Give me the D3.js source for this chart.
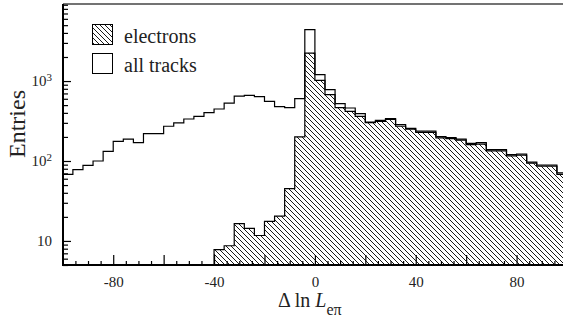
<!DOCTYPE html>
<html>
<head>
<meta charset="utf-8">
<script src="https://cdn.jsdelivr.net/npm/d3@7"></script>
<style>
  body { margin: 0; background: #fff; }
  svg { display: block; }
  svg text { font-family: 'Liberation Serif', serif; }
</style>
</head>
<body>
<div id="chart"></div>
<script>
// histogram bins (left edge of each 4-unit bin)
const binLefts = [-100, -96, -92, -88, -84, -80, -76, -72, -68, -64,
  -60, -56, -52, -48, -44, -40, -36, -32, -28, -24,
  -20, -16, -12, -8, -4, 0, 4, 8, 12, 16,
  20, 24, 28, 32, 36, 40, 44, 48, 52, 56,
  60, 64, 68, 72, 76, 80, 84, 88, 92, 96];
const binWidth = 4;

// all tracks
const allTracks = [68, 78, 88, 100, 132, 176, 188, 170, 220, 220,
  272, 299, 335, 362, 402, 447, 531, 649, 662, 638,
  557, 479, 465, 603, 4390, 1202, 780, 522, 460, 391,
  307, 323, 339, 285, 256, 236, 236, 202, 196, 188,
  166, 170, 139, 139, 120, 122, 97, 89, 89, 71];

// electrons (0 = empty bin)
const electrons = [0, 0, 0, 0, 0, 0, 0, 0, 0, 0,
  0, 0, 0, 0, 0, 7.8, 8.7, 16.5, 14.4, 11.7,
  17.6, 20.4, 45, 200, 2240, 1020, 676, 465, 417, 362,
  302, 313, 332, 272, 250, 228, 228, 195, 190, 182,
  160, 163, 134, 134, 116, 118, 94, 86, 86, 68];

const xLabelTicks = [-80, -40, 0, 40, 80];
const xMajorTicks = [-100, -80, -60, -40, -20, 0, 20, 40, 60, 80, 100];
const xMinorTicks = [-95, -90, -85, -75, -70, -65, -55, -50, -45, -35, -30, -25,
  -15, -10, -5, 5, 10, 15, 25, 30, 35, 45, 50, 55, 65, 70, 75, 85, 90, 95];
const yMajorTicks = [10, 100, 1000];
const yMinorTicks = [5, 6, 7, 8, 9, 20, 30, 40, 50, 60, 70, 80, 90,
  200, 300, 400, 500, 600, 700, 800, 900,
  2000, 3000, 4000, 5000, 6000, 7000, 8000, 9000];
const yTickLabels = [{ base: '10', exp: '' }, { base: '10', exp: '2' }, { base: '10', exp: '3' }];

const serif = 'Liberation Serif, serif';
const width = 563;
const height = 323;
const plot = { left: 63, top: 4, bottom: 265 };

const svg = d3.select('#chart')
  .append('svg')
  .attr('width', width)
  .attr('height', height)
  .attr('font-family', serif);

const x = d3.scaleLinear()
  .domain([-100, 100])
  .range([62.8, 567]);

const y = d3.scaleLog()
  .domain([5, 9200])
  .range([plot.bottom, plot.top]);

// hatch pattern
svg.append('defs')
  .append('pattern')
  .attr('id', 'hatch')
  .attr('patternUnits', 'userSpaceOnUse')
  .attr('width', 5)
  .attr('height', 5)
  .append('path')
  .attr('d', 'M-1,-1 L6,6 M-1,4 L1,6 M4,-1 L6,1')
  .attr('stroke', '#000')
  .attr('stroke-width', 0.9);

svg.append('clipPath').attr('id', 'plotclip')
  .append('rect')
  .attr('x', plot.left)
  .attr('y', plot.top)
  .attr('width', width - plot.left)
  .attr('height', plot.bottom - plot.top);

// step points incl. closing right edge
function steps(values) {
  const pts = binLefts.map((b, i) => ({ x: b, v: values[i] }));
  pts.push({ x: binLefts[binLefts.length - 1] + binWidth, v: values[values.length - 1] });
  return pts;
}

const g = svg.append('g').attr('clip-path', 'url(#plotclip)');

const elecPts = steps(electrons).filter(d => d.v > 0);
const area = d3.area()
  .x(d => x(d.x))
  .y0(plot.bottom)
  .y1(d => y(d.v))
  .curve(d3.curveStepAfter);

g.append('path')
  .datum(elecPts)
  .attr('d', area)
  .attr('fill', 'url(#hatch)')
  .attr('stroke', '#000')
  .attr('stroke-width', 1.2);

const line = d3.line()
  .x(d => x(d.x))
  .y(d => y(d.v))
  .curve(d3.curveStepAfter);

g.append('path')
  .datum(steps(allTracks))
  .attr('d', line)
  .attr('fill', 'none')
  .attr('stroke', '#000')
  .attr('stroke-width', 1.2);

// top frame
svg.append('line')
  .attr('x1', plot.left).attr('x2', width)
  .attr('y1', plot.top).attr('y2', plot.top)
  .attr('stroke', '#444')
  .attr('stroke-width', 1.5);

// x axis
const xAxisG = svg.append('g').attr('transform', `translate(0,${plot.bottom})`);
xAxisG.append('g')
  .call(d3.axisBottom(x).tickValues(xMinorTicks).tickSize(-4).tickFormat(''))
  .call(a => a.select('.domain').remove());
xAxisG.append('g')
  .call(d3.axisBottom(x).tickValues(xMajorTicks).tickSize(-10).tickPadding(11)
    .tickFormat(d => xLabelTicks.includes(d) ? d : ''))
  .attr('font-family', serif)
  .attr('font-size', 15)
  .call(a => a.select('.domain').remove())
  .selectAll('text')
  .attr('fill', '#222');
xAxisG.selectAll('.tick line').attr('stroke', '#000').attr('stroke-width', 1.2);
xAxisG.append('line')
  .attr('x1', plot.left).attr('x2', width)
  .attr('stroke', '#000').attr('stroke-width', 2);

// y axis
const yAxisG = svg.append('g').attr('transform', `translate(${plot.left},0)`);
yAxisG.append('g')
  .call(d3.axisLeft(y).tickValues(yMinorTicks).tickSize(-5).tickFormat(''))
  .call(a => a.select('.domain').remove());
const yMajor = yAxisG.append('g')
  .call(d3.axisLeft(y).tickValues(yMajorTicks).tickSize(-8).tickPadding(11).tickFormat(''))
  .attr('font-family', serif)
  .attr('font-size', 15)
  .call(a => a.select('.domain').remove());
yAxisG.selectAll('.tick line').attr('stroke', '#000').attr('stroke-width', 1.2);
yMajor.selectAll('.tick text').each(function (d, i) {
  const t = d3.select(this).attr('fill', '#222');
  t.append('tspan').text(yTickLabels[i].base);
  if (yTickLabels[i].exp) {
    t.append('tspan')
      .attr('dy', '-0.45em')
      .attr('font-size', 11)
      .text(yTickLabels[i].exp);
  }
});
yAxisG.append('line')
  .attr('y1', plot.top).attr('y2', plot.bottom + 1)
  .attr('stroke', '#000').attr('stroke-width', 2);

// axis labels
svg.append('text')
  .attr('transform', 'translate(25,124) rotate(-90)')
  .attr('text-anchor', 'middle')
  .attr('font-size', 24)
  .attr('fill', '#222')
  .text('Entries');

const xl = svg.append('text')
  .attr('x', 278)
  .attr('y', 307)
  .attr('font-size', 20)
  .attr('fill', '#222');
xl.append('tspan').text('Δ ln ');
xl.append('tspan').attr('font-style', 'italic').text('L');
xl.append('tspan').attr('dy', 8).attr('font-size', 16).text('eπ');

// legend
const legendItems = [
  { label: 'electrons', fill: 'url(#hatch)', y: 24 },
  { label: 'all tracks', fill: '#fff', y: 53 }
];
const legend = svg.append('g').attr('class', 'legend');
legend.selectAll('rect')
  .data(legendItems)
  .enter()
  .append('rect')
  .attr('x', 92.5)
  .attr('y', d => d.y + 0.5)
  .attr('width', 20)
  .attr('height', 20)
  .attr('fill', d => d.fill)
  .attr('stroke', '#000')
  .attr('stroke-width', 1);
legend.selectAll('text')
  .data(legendItems)
  .enter()
  .append('text')
  .attr('x', 124)
  .attr('y', d => d.y + 19)
  .attr('font-size', 20)
  .attr('fill', '#222')
  .text(d => d.label);
</script>
</body>
</html>
